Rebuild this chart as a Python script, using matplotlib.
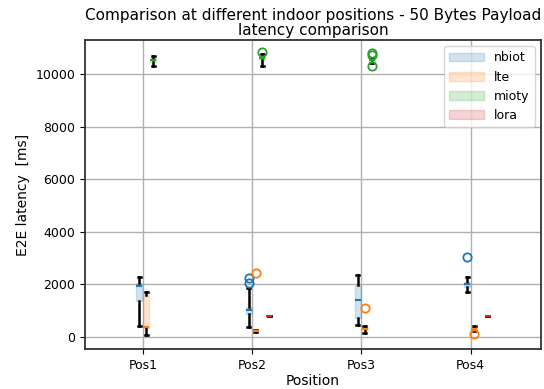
import matplotlib
matplotlib.use("Agg")
import matplotlib.pyplot as plt
from matplotlib.patches import Patch

positions_labels = ["Pos1", "Pos2", "Pos3", "Pos4"]
series = ["nbiot", "lte", "mioty", "lora"]

# box statistics per series per position: (whislo, q1, med, q3, whishi, fliers); None = no data
nbiot_stats = [
    (400, 1350, 1950, 2050, 2300, []),
    (370, 870, 1020, 1150, 1850, [2050, 2250]),
    (450, 710, 1410, 1980, 2350, []),
    (1720, 1910, 2030, 2100, 2270, [3030]),
]
lte_stats = [
    (80, 350, 380, 1600, 1720, []),
    (200, 220, 240, 255, 270, [2450]),
    (150, 260, 290, 370, 420, [1110]),
    (220, 240, 300, 380, 420, [130]),
]
mioty_stats = [
    (10320, 10470, 10550, 10620, 10700, []),
    (10330, 10560, 10620, 10700, 10760, [10840]),
    (10430, 10480, 10530, 10580, 10620, [10820, 10720, 10330]),
    None,
]
lora_stats = [
    None,
    (800, 800, 800, 800, 800, []),
    None,
    (800, 800, 800, 800, 800, []),
]

all_stats = [nbiot_stats, lte_stats, mioty_stats, lora_stats]
colors = ["#1f77b4", "#ff7f0e", "#2ca02c", "#d62728"]

fig = plt.figure(figsize=(5.44, 3.89), dpi=100)
ax = fig.add_axes([0.156, 0.103, 0.8385, 0.794])

for j, (name, stats, col) in enumerate(zip(series, all_stats, colors)):
    bxp = []
    pos = []
    for i, s in enumerate(stats):
        if s is None:
            continue
        wl, q1, med, q3, wh, fl = s
        bxp.append(dict(whislo=wl, q1=q1, med=med, q3=q3, whishi=wh, fliers=fl))
        pos.append(i + 1 + (j - 0.5) * 0.0625)
    ax.bxp(bxp, positions=pos, widths=0.055, patch_artist=True, manage_ticks=False,
           boxprops=dict(facecolor=col, alpha=0.2, edgecolor=col, linewidth=1),
           medianprops=dict(color=col, linewidth=1.5),
           whiskerprops=dict(color="black", linewidth=1.8),
           capprops=dict(color="black", linewidth=1.8),
           flierprops=dict(marker="o", markerfacecolor="none", markeredgecolor=col,
                           markersize=6, markeredgewidth=1.3))

ax.set_xticks([1, 2, 3, 4])
ax.set_xticklabels(positions_labels, fontsize=9)
ax.set_xlim(0.469, 4.644)
ax.set_ylim(-457, 11306)
ax.set_yticks([0, 2000, 4000, 6000, 8000, 10000])
ax.tick_params(axis="y", labelsize=9)
ax.grid(True, color="#b0b0b0", linewidth=1)
ax.set_axisbelow(True)
for sp in ax.spines.values():
    sp.set_linewidth(1.3)
    sp.set_color("#333333")

ax.set_xlabel("Position", fontsize=10, labelpad=2)
ax.set_ylabel("E2E latency  [ms]", fontsize=10)
ax.set_title("Comparison at different indoor positions - 50 Bytes Payload\nlatency comparison",
             fontsize=11, pad=4, linespacing=1.0)

handles = [Patch(facecolor=c, alpha=0.2, edgecolor=c) for c in colors]
ax.legend(handles, series, loc="upper right", fontsize=9, handlelength=2.8)

fig.savefig("out.png", dpi=100)
